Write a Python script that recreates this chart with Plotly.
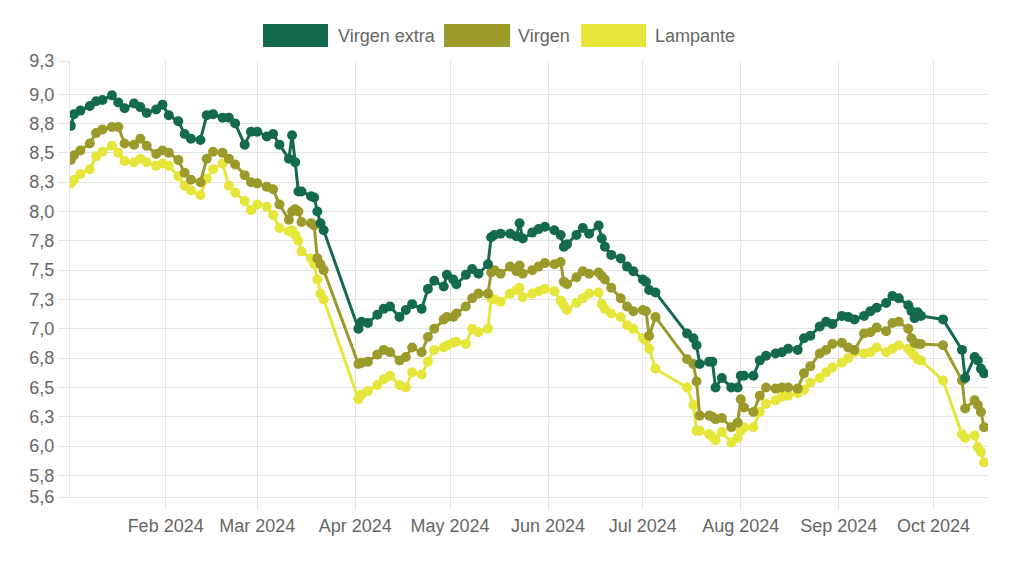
import plotly.graph_objects as go

# ---------------- data ----------------
dates = [
    "2024-01-02", "2024-01-03", "2024-01-05", "2024-01-08", "2024-01-10", "2024-01-12", "2024-01-15",
    "2024-01-17", "2024-01-19", "2024-01-22", "2024-01-24", "2024-01-26", "2024-01-29", "2024-01-31",
    "2024-02-02", "2024-02-05", "2024-02-07", "2024-02-09", "2024-02-12", "2024-02-14", "2024-02-16",
    "2024-02-19", "2024-02-21", "2024-02-23", "2024-02-26", "2024-02-28",
    "2024-03-01", "2024-03-04", "2024-03-06", "2024-03-08", "2024-03-11", "2024-03-12", "2024-03-13",
    "2024-03-14", "2024-03-15", "2024-03-18", "2024-03-19", "2024-03-20", "2024-03-21", "2024-03-22",
    "2024-04-02", "2024-04-03", "2024-04-05", "2024-04-08", "2024-04-10", "2024-04-12", "2024-04-15",
    "2024-04-17", "2024-04-19", "2024-04-22", "2024-04-24", "2024-04-26", "2024-04-29", "2024-04-30",
    "2024-05-02", "2024-05-03", "2024-05-06", "2024-05-08", "2024-05-10", "2024-05-13", "2024-05-14",
    "2024-05-15", "2024-05-17", "2024-05-20", "2024-05-22", "2024-05-23", "2024-05-24", "2024-05-27",
    "2024-05-29", "2024-05-31",
    "2024-06-03", "2024-06-05", "2024-06-06", "2024-06-07", "2024-06-10", "2024-06-12", "2024-06-14",
    "2024-06-17", "2024-06-18", "2024-06-19", "2024-06-21", "2024-06-24", "2024-06-26", "2024-06-28",
    "2024-07-01", "2024-07-02", "2024-07-03", "2024-07-05", "2024-07-15", "2024-07-17", "2024-07-18",
    "2024-07-19", "2024-07-22", "2024-07-23", "2024-07-24", "2024-07-26", "2024-07-29", "2024-07-31",
    "2024-08-01", "2024-08-02", "2024-08-05", "2024-08-07", "2024-08-09", "2024-08-12", "2024-08-14",
    "2024-08-16", "2024-08-19", "2024-08-21", "2024-08-23", "2024-08-26", "2024-08-28", "2024-08-30",
    "2024-09-02", "2024-09-04", "2024-09-06", "2024-09-09", "2024-09-11", "2024-09-13", "2024-09-16",
    "2024-09-18", "2024-09-20", "2024-09-23", "2024-09-24", "2024-09-25", "2024-09-26", "2024-09-27",
    "2024-10-04", "2024-10-10", "2024-10-11", "2024-10-14", "2024-10-15", "2024-10-16", "2024-10-17",
]

virgen_extra = [
    8.73, 8.83, 8.86, 8.90, 8.94, 8.95, 8.99, 8.93, 8.88, 8.92, 8.89, 8.84, 8.87, 8.91,
    8.82, 8.77, 8.66, 8.62, 8.61, 8.82, 8.83, 8.80, 8.80, 8.75, 8.57, 8.68,
    8.68, 8.64, 8.66, 8.57, 8.45, 8.65, 8.42, 8.17, 8.17, 8.13, 8.12, 8.00, 7.90, 7.84,
    7.00, 7.06, 7.05, 7.12, 7.17, 7.19, 7.10, 7.16, 7.21, 7.17, 7.34, 7.41, 7.36, 7.46,
    7.42, 7.38, 7.46, 7.51, 7.47, 7.55, 7.78, 7.80, 7.81, 7.81, 7.79, 7.90, 7.77, 7.82, 7.85, 7.87,
    7.84, 7.80, 7.70, 7.72, 7.80, 7.86, 7.81, 7.88, 7.77, 7.70, 7.63, 7.60, 7.53, 7.49,
    7.42, 7.40, 7.33, 7.31, 6.96, 6.92, 6.86, 6.70, 6.72, 6.72, 6.50, 6.58, 6.50, 6.50,
    6.60, 6.60, 6.60, 6.73, 6.77, 6.79, 6.80, 6.83, 6.82, 6.92, 6.94, 7.02, 7.06, 7.04,
    7.11, 7.10, 7.08, 7.11, 7.15, 7.18, 7.22, 7.28, 7.26, 7.20, 7.15, 7.09, 7.14, 7.11,
    7.08, 6.82, 6.58, 6.76, 6.73, 6.66, 6.62,
]

virgen = [
    8.44, 8.48, 8.52, 8.58, 8.67, 8.70, 8.72, 8.72, 8.58, 8.57, 8.62, 8.56, 8.49, 8.52,
    8.50, 8.44, 8.33, 8.27, 8.25, 8.45, 8.51, 8.50, 8.45, 8.40, 8.31, 8.25,
    8.24, 8.21, 8.19, 8.06, 7.93, 8.00, 8.02, 8.00, 7.91, 7.90, 7.88, 7.60, 7.55, 7.50,
    6.70, 6.71, 6.72, 6.78, 6.82, 6.80, 6.73, 6.76, 6.84, 6.80, 6.93, 7.00, 7.08, 7.10,
    7.10, 7.13, 7.19, 7.26, 7.30, 7.30, 7.48, 7.50, 7.47, 7.53, 7.49, 7.54, 7.47, 7.50, 7.53, 7.56,
    7.55, 7.57, 7.40, 7.38, 7.44, 7.49, 7.47, 7.48, 7.45, 7.42, 7.35, 7.26, 7.19, 7.15,
    7.16, 7.15, 6.94, 7.10, 6.74, 6.70, 6.55, 6.26, 6.26, 6.25, 6.23, 6.24, 6.16, 6.20,
    6.40, 6.33, 6.29, 6.43, 6.50, 6.49, 6.50, 6.50, 6.49, 6.62, 6.68, 6.79, 6.82, 6.87,
    6.88, 6.84, 6.82, 6.96, 6.97, 7.01, 6.98, 7.05, 7.06, 7.00, 6.92, 6.88, 6.87, 6.87,
    6.86, 6.56, 6.32, 6.39, 6.35, 6.29, 6.16,
]

lampante = [
    8.24, 8.27, 8.32, 8.36, 8.47, 8.51, 8.56, 8.50, 8.43, 8.42, 8.45, 8.42, 8.39, 8.41,
    8.39, 8.30, 8.22, 8.18, 8.14, 8.28, 8.36, 8.41, 8.22, 8.16, 8.09, 8.01,
    8.06, 8.04, 7.97, 7.86, 7.83, 7.84, 7.80, 7.75, 7.66, 7.60, 7.55, 7.42, 7.30, 7.25,
    6.40, 6.44, 6.47, 6.52, 6.57, 6.60, 6.52, 6.50, 6.63, 6.61, 6.72, 6.82, 6.84, 6.86,
    6.88, 6.89, 6.87, 7.00, 6.97, 7.00, 7.26, 7.25, 7.23, 7.30, 7.33, 7.35, 7.27, 7.30, 7.32, 7.34,
    7.32, 7.24, 7.20, 7.16, 7.22, 7.26, 7.30, 7.31, 7.21, 7.17, 7.13, 7.10, 7.03, 7.00,
    6.92, 6.90, 6.83, 6.66, 6.50, 6.35, 6.13, 6.13, 6.10, 6.08, 6.05, 6.12, 6.03, 6.07,
    6.13, 6.16, 6.16, 6.29, 6.36, 6.39, 6.42, 6.43, 6.45, 6.48, 6.54, 6.58, 6.63, 6.67,
    6.71, 6.75, 6.80, 6.79, 6.80, 6.84, 6.80, 6.83, 6.86, 6.83, 6.80, 6.77, 6.74, 6.73,
    6.56, 6.10, 6.07, 6.09, 5.99, 5.95, 5.86,
]

series_names = ["Virgen extra", "Virgen", "Lampante"]
y_tickvals = [5.566, 5.75, 6.0, 6.25, 6.5, 6.75, 7.0, 7.25, 7.5, 7.75, 8.0, 8.25, 8.5, 8.75, 9.0, 9.283]
y_ticktext = ["5,6", "5,8", "6,0", "6,3", "6,5", "6,8", "7,0", "7,3", "7,5", "7,8", "8,0", "8,3",
              "8,5", "8,8", "9,0", "9,3"]

# ---------------- style ----------------
colors = {"Virgen extra": "#136a4e", "Virgen": "#9b9a2a", "Lampante": "#e6e53a"}
values = {"Virgen extra": virgen_extra, "Virgen": virgen, "Lampante": lampante}
FONT = "Liberation Sans, Arial, Helvetica, sans-serif"
FS = 18
TXT = "#666666"
GRID = "#e4e4e4"

# page body has an 8px margin: figure placed at (8, 8)
OFF = 8
W, H = 1024 - OFF, 576 - OFF
ML, MR, MT, MB = 70 - OFF, 36, 61 - OFF, 79
PW, PH = W - ML - MR, H - MT - MB

fig = go.Figure()
# first series drawn last (on top)
for name in reversed(series_names):
    fig.add_trace(go.Scatter(
        x=dates, y=values[name], name=name, mode="lines+markers",
        line=dict(color=colors[name], width=3),
        marker=dict(color=colors[name], size=10, line=dict(width=0)),
        showlegend=False,
    ))


def px_x(x):  # screen pixel -> paper
    return (x - OFF - ML) / PW


def px_y(y):
    return (OFF + MT + PH - y) / PH


# legend (boxes + labels), positions in screen pixels
legend_boxes = [(263, 328, 336), (444, 510, 516), (581, 646, 653)]
shapes = []
annotations = []
for name, (x0, x1, tx) in zip(series_names, legend_boxes):
    shapes.append(dict(type="rect", xref="paper", yref="paper",
                       x0=px_x(x0), x1=px_x(x1), y0=px_y(47), y1=px_y(24),
                       fillcolor=colors[name], line=dict(width=0)))
    annotations.append(dict(xref="paper", yref="paper", x=px_x(tx), y=px_y(36),
                            xanchor="left", yanchor="middle", showarrow=False,
                            text=name, font=dict(family=FONT, size=FS, color=TXT)))

fig.update_layout(
    width=W, height=H,
    margin=dict(l=ML, r=MR, t=MT, b=MB, autoexpand=False),
    paper_bgcolor="white", plot_bgcolor="white",
    font=dict(family=FONT, size=FS, color=TXT),
    shapes=shapes, annotations=annotations,
    xaxis=dict(
        type="date",
        range=["2024-01-01 17:30", "2024-10-18 05:30"],
        tick0="2024-01-01", dtick="M1", tickformat="%b %Y",
        showgrid=True, gridcolor=GRID, gridwidth=1,
        ticks="outside", ticklen=12, tickcolor=GRID,
        showline=True, linecolor=GRID, linewidth=1,
        zeroline=False,
        tickfont=dict(family=FONT, size=FS, color=TXT),
    ),
    yaxis=dict(
        range=[5.566, 9.283],
        tickmode="array", tickvals=y_tickvals, ticktext=y_ticktext,
        showgrid=True, gridcolor=GRID, gridwidth=1,
        ticks="outside", ticklen=11, tickcolor=GRID,
        showline=True, linecolor=GRID, linewidth=1,
        zeroline=False,
        tickfont=dict(family=FONT, size=FS, color=TXT),
    ),
)

fig.write_html("out.html")
